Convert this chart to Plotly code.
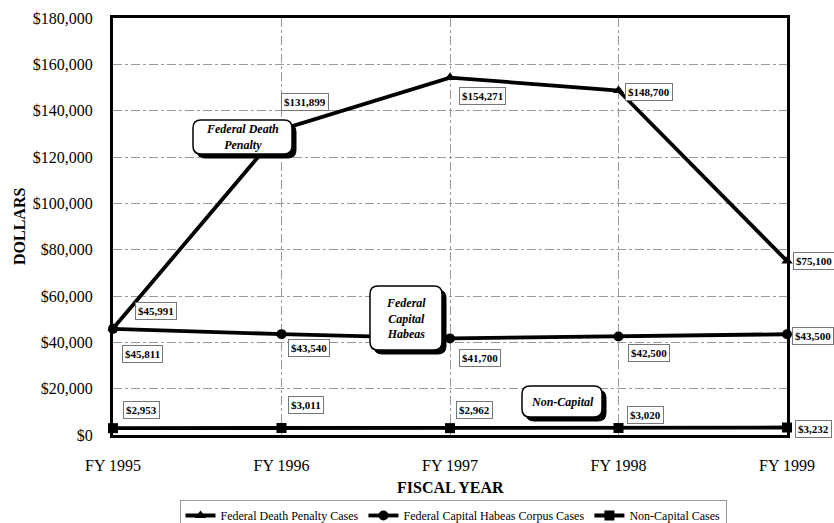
import plotly.graph_objects as go

years = ["FY 1995", "FY 1996", "FY 1997", "FY 1998", "FY 1999"]
death_penalty = [45991, 131899, 154271, 148700, 75100]
habeas = [45811, 43540, 41700, 42500, 43500]
non_capital = [2953, 3011, 2962, 3020, 3232]
y_ticks = [0, 20000, 40000, 60000, 80000, 100000, 120000, 140000, 160000, 180000]
y_tick_labels = [f"${v:,}" for v in y_ticks]

W, H = 834, 523
ML, MR, MT, MB = 113, 47, 18, 88
PW, PH = W - ML - MR, H - MT - MB
SERIF = "Liberation Serif, Times New Roman, serif"

fig = go.Figure()
series = [
    ("Federal Death Penalty Cases", death_penalty, "triangle-up"),
    ("Federal Capital Habeas Corpus Cases", habeas, "circle"),
    ("Non-Capital Cases", non_capital, "square"),
]
for name, vals, sym in series:
    fig.add_trace(go.Scatter(
        x=years, y=vals, name=name, mode="lines+markers",
        line=dict(color="black", width=3.8),
        marker=dict(symbol=sym, size=10, color="black"),
        cliponaxis=False,
    ))

# data label offsets (pixels) relative to each point
offsets = {
    0: [(43, 17), (23, 27), (32, -18), (30, -1), (27, 0)],
    1: [(29, -25), (27, -14), (30, -20), (30, -16), (26, -2)],
    2: [(28, 18), (24, 23), (24, 18), (27, 13), (26, -1)],
}
annotations = []
for si, (name, vals, sym) in enumerate(series):
    for i, (yr, v) in enumerate(zip(years, vals)):
        dx, dy = offsets[si][i]
        annotations.append(dict(
            x=yr, y=v, xref="x", yref="y", text=f"${v:,}", showarrow=False,
            xshift=dx, yshift=dy,
            font=dict(family=SERIF, size=11, color="black", weight="bold"),
            bgcolor="white", bordercolor="#777", borderwidth=1, borderpad=2,
        ))


def fx(px):
    return (px - ML) / PW


def fy(py):
    return (MT + PH - py) / PH


def rrect(x0, y0, x1, y1, r):
    pts = [
        f"M {fx(x0 + r)},{fy(y0)}",
        f"L {fx(x1 - r)},{fy(y0)}",
        f"Q {fx(x1)},{fy(y0)} {fx(x1)},{fy(y0 + r)}",
        f"L {fx(x1)},{fy(y1 - r)}",
        f"Q {fx(x1)},{fy(y1)} {fx(x1 - r)},{fy(y1)}",
        f"L {fx(x0 + r)},{fy(y1)}",
        f"Q {fx(x0)},{fy(y1)} {fx(x0)},{fy(y1 - r)}",
        f"L {fx(x0)},{fy(y0 + r)}",
        f"Q {fx(x0)},{fy(y0)} {fx(x0 + r)},{fy(y0)}",
        "Z",
    ]
    return " ".join(pts)


callouts = [
    ("Federal Death<br>Penalty", (193, 120, 292, 154)),
    ("Federal<br>Capital<br>Habeas", (370, 286, 442, 350)),
    ("Non-Capital", (522, 386, 602, 417)),
]
shapes = []
for text, (x0, y0, x1, y1) in callouts:
    shapes.append(dict(type="path", path=rrect(x0 + 4, y0 + 4, x1 + 4, y1 + 4, 8),
                       xref="paper", yref="paper", fillcolor="black",
                       line=dict(color="black", width=1), layer="above"))
    shapes.append(dict(type="path", path=rrect(x0, y0, x1, y1, 8),
                       xref="paper", yref="paper", fillcolor="white",
                       line=dict(color="black", width=1.5), layer="above"))
    annotations.append(dict(
        x=fx((x0 + x1) / 2), y=fy((y0 + y1) / 2), xref="paper", yref="paper",
        text=f"<b><i>{text}</i></b>", showarrow=False, xanchor="center", yanchor="middle",
        font=dict(family=SERIF, size=12, color="black"),
    ))

annotations.append(dict(
    x=fx(450), y=fy(487), xref="paper", yref="paper", text="<b>FISCAL YEAR</b>",
    showarrow=False, xanchor="center", yanchor="middle",
    font=dict(family=SERIF, size=16, color="black"),
))
annotations.append(dict(
    x=fx(19), y=fy(226), xref="paper", yref="paper", text="<b>DOLLARS</b>",
    showarrow=False, textangle=-90, xanchor="center", yanchor="middle",
    font=dict(family=SERIF, size=16, color="black"),
))

fig.update_layout(
    width=W, height=H,
    margin=dict(l=ML, r=MR, t=MT, b=MB, autoexpand=False),
    paper_bgcolor="white", plot_bgcolor="white",
    font=dict(family=SERIF, color="black"),
    showlegend=True,
    legend=dict(
        orientation="h", x=fx(453), xanchor="center", y=fy(500), yanchor="top",
        font=dict(family=SERIF, size=12, color="black"),
        bordercolor="#999", borderwidth=1, bgcolor="white",
    ),
    xaxis=dict(
        type="category", range=[0, 4], showgrid=True, gridcolor="#999",
        griddash="dashdot", gridwidth=1, showline=True, linecolor="black",
        linewidth=3, mirror=True, tickfont=dict(family=SERIF, size=16, color="black"),
        ticks="", ticklabelstandoff=14, zeroline=False, automargin=False,
    ),
    yaxis=dict(
        range=[0, 180000], tickvals=y_ticks, ticktext=y_tick_labels,
        showgrid=True, gridcolor="#999", griddash="dashdot", gridwidth=1,
        showline=True, linecolor="black", linewidth=3, mirror=True,
        tickfont=dict(family=SERIF, size=16, color="black"), ticks="",
        ticklabelstandoff=14, zeroline=False, automargin=False,
    ),
    shapes=shapes,
    annotations=annotations,
)

fig.write_html(
    "out.html",
    config={"displayModeBar": False},
    post_script="document.body.style.margin='0';document.body.style.overflow='hidden';",
)
